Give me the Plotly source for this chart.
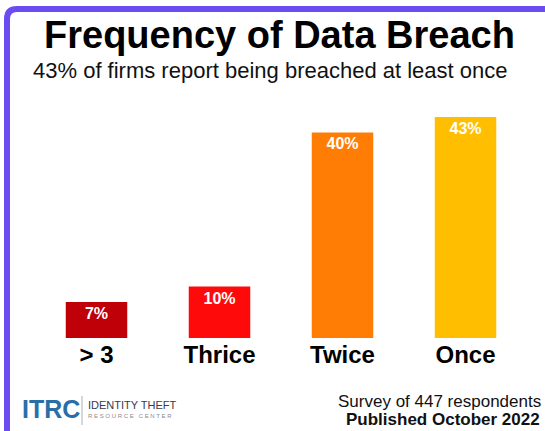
import plotly.graph_objects as go

categories = ["> 3", "Thrice", "Twice", "Once"]
values = [7, 10, 40, 43]
bar_colors = ["#c00008", "#ff0a0a", "#ff7d05", "#ffbf00"]
title_text = "Frequency of Data Breach"
subtitle_text = "43% of firms report being breached at least once"
footer_lines = ["Survey of 447 respondents", "<b>Published October 2022</b>"]

W, H = 545, 431
L, R, T, B = 35, 18, 117, 93
PW, PH = W - L - R, H - T - B


def px(x):
    return (x - L) / PW


def py(y):
    return (H - B - y) / PH


FONT = "Liberation Sans, Arial, sans-serif"

fig = go.Figure()
fig.add_trace(go.Bar(
    x=categories,
    y=values,
    marker=dict(color=bar_colors, line=dict(width=0)),
    text=[f"{v}%" for v in values],
    textposition="inside",
    insidetextanchor="end",
    textangle=0,
    insidetextfont=dict(color="white", size=16, family=FONT, weight="bold"),
    hoverinfo="skip",
))

# purple frame (left + top with rounded corner)
r = 10
fig.add_shape(
    type="path", xref="paper", yref="paper",
    path=(f"M {px(7)},{py(440)} L {px(7)},{py(9 + r)} "
          f"Q {px(7)},{py(9)} {px(7 + r)},{py(9)} L {px(560)},{py(9)}"),
    line=dict(color="#6b4cf2", width=6),
)

ann = []
ann.append(dict(text=f"<b>{title_text}</b>", x=px(279), y=py(34.5), xref="paper", yref="paper",
                xanchor="center", yanchor="middle", showarrow=False,
                font=dict(size=38, color="#000000", family=FONT)))
ann.append(dict(text=subtitle_text, x=px(270), y=py(70.5), xref="paper", yref="paper",
                xanchor="center", yanchor="middle", showarrow=False,
                font=dict(size=22, color="#111111", family=FONT)))
ann.append(dict(text=footer_lines[0], x=px(543), y=py(401), xref="paper", yref="paper",
                xanchor="right", yanchor="middle", showarrow=False,
                font=dict(size=17, color="#111111", family=FONT)))
ann.append(dict(text=footer_lines[1], x=px(542), y=py(419), xref="paper", yref="paper",
                xanchor="right", yanchor="middle", showarrow=False,
                font=dict(size=17, color="#111111", family=FONT)))
# logo
ann.append(dict(text="<b>ITRC</b>", x=px(20), y=py(409), xref="paper", yref="paper",
                xanchor="left", yanchor="middle", showarrow=False,
                font=dict(size=25, color="#2a6ea8", family=FONT)))
ann.append(dict(text="IDENTITY THEFT", x=px(86), y=py(405), xref="paper", yref="paper",
                xanchor="left", yanchor="middle", showarrow=False,
                font=dict(size=11, color="#3a3a4a", family=FONT)))
ann.append(dict(text="R E S O U R C E   C E N T E R", x=px(86), y=py(416), xref="paper", yref="paper",
                xanchor="left", yanchor="middle", showarrow=False,
                font=dict(size=6, color="#8a8a96", family=FONT)))
fig.add_shape(type="line", xref="paper", yref="paper",
              x0=px(82), x1=px(82), y0=py(396), y1=py(425),
              line=dict(color="#b0b0b8", width=1))

fig.update_layout(
    width=W, height=H,
    margin=dict(l=L, r=R, t=T, b=B, pad=0),
    paper_bgcolor="white", plot_bgcolor="white",
    bargap=0.5,
    showlegend=False,
    annotations=ann,
    xaxis=dict(showgrid=False, zeroline=False, showline=False, ticks="",
               tickfont=dict(size=24, color="#000000", family=FONT, weight="bold"),
               ticklabelstandoff=0, fixedrange=True),
    yaxis=dict(range=[0, 43], showgrid=False, zeroline=False, showline=False,
               showticklabels=False, ticks="", fixedrange=True),
)

fig.write_html("out.html", config={"displayModeBar": False},
               post_script="document.body.style.margin='0px';document.body.style.overflow='hidden';")
